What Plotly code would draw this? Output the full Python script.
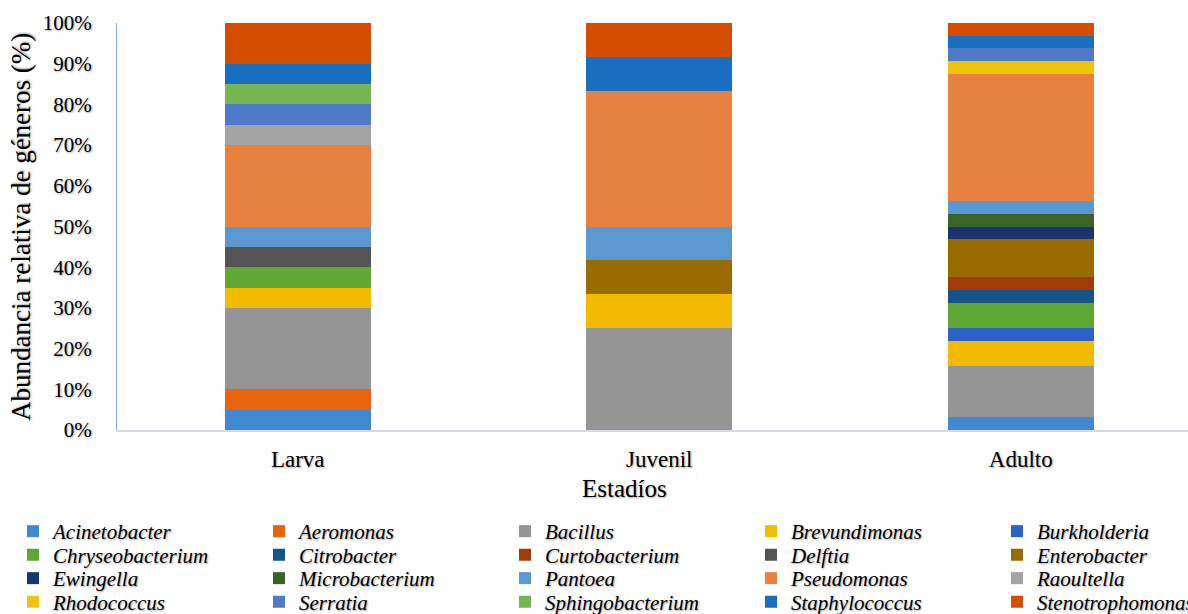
import plotly.graph_objects as go

# Developmental stages (x categories)
stages = ["Larva", "Juvenil", "Adulto"]

# Genera, in stacking order (bottom to top)
genera = [
    "Acinetobacter", "Aeromonas", "Bacillus", "Brevundimonas", "Burkholderia",
    "Chryseobacterium", "Citrobacter", "Curtobacterium", "Delftia", "Enterobacter",
    "Ewingella", "Microbacterium", "Pantoea", "Pseudomonas", "Raoultella",
    "Rhodococcus", "Serratia", "Sphingobacterium", "Staphylococcus", "Stenotrophomonas",
]

# Relative abundance (%) of each genus per stage
larva = [5, 5, 20, 5, 0, 5, 0, 0, 5, 0, 0, 0, 5, 20, 5, 0, 5, 5, 5, 10]
juvenil = [0, 0, 25, 8.33, 0, 0, 0, 0, 0, 8.33, 0, 0, 8.33, 33.33, 0, 0, 0, 0, 8.33, 8.33]
adulto = [3.125, 0, 12.5, 6.25, 3.125, 6.25, 3.125, 3.125, 0, 9.375,
          3.125, 3.125, 3.125, 31.25, 0, 3.125, 3.125, 0, 3.125, 3.125]

colors = [
    "#4189d0", "#e8650f", "#959595", "#f3bb00", "#2e62c6",
    "#5ea833", "#155389", "#a03c06", "#545454", "#9a6c00",
    "#18366e", "#396426", "#5b98d2", "#e88040", "#a3a3a3",
    "#f0c40c", "#4e7ac8", "#76b552", "#186fc0", "#d44e00",
]

y_ticks = list(range(0, 101, 10))
y_tick_text = [f"{v}%" for v in y_ticks]

SERIF = "Liberation Serif"
SHADOW = "1px 1px 2px rgba(0,0,0,0.35)"

W, H = 1188, 614
ML, MT, MB = 117, 23, 184
PW, PH = W - ML, H - MT - MB

fig = go.Figure()

legend_layouts = {}
for i, (name, col) in enumerate(zip(genera, colors)):
    key = "legend" if i == 0 else f"legend{i + 1}"
    vals = [larva[i], juvenil[i], adulto[i]]
    fig.add_trace(go.Bar(
        x=stages, y=vals, name=name,
        marker=dict(color=col, line=dict(width=0)),
        width=0.404,
        legend=key,
        hovertemplate="%{x}<br>" + name + ": %{y}%<extra></extra>",
    ))
    # one legend box per entry: 5 columns x 4 rows
    c, r = i % 5, i // 5
    left = 13 + 246 * c
    top = 511 + 23.5 * r
    legend_layouts[key] = dict(
        x=left / W, y=1 - top / H, xref="container", yref="container",
        xanchor="left", yanchor="top",
        bgcolor="rgba(0,0,0,0)", borderwidth=0,
        font=dict(family=SERIF, size=21, color="#000", style="italic", shadow=SHADOW),
    )


def px_x(px):
    return (px - ML) / PW


def px_y(px):
    return (H - MB - px) / PH


fig.update_layout(
    width=W, height=H,
    barmode="stack", barnorm="percent",
    plot_bgcolor="white", paper_bgcolor="white",
    margin=dict(l=ML, r=0, t=MT, b=MB, autoexpand=False),
    showlegend=True,
    font=dict(family=SERIF, color="#000"),
    xaxis=dict(
        type="category", range=[-0.5, -0.5 + PW / 361.5],
        showline=True, linecolor="#d6dbe3", linewidth=2,
        showgrid=False, zeroline=False, ticks="",
        tickfont=dict(family=SERIF, size=23, color="#000", shadow=SHADOW),
        ticklabelstandoff=7,
    ),
    yaxis=dict(
        range=[0, 100], tickvals=y_ticks, ticktext=y_tick_text,
        showline=True, linecolor="#85acd9", linewidth=1,
        showgrid=False, zeroline=False, ticks="",
        tickfont=dict(family=SERIF, size=21, color="#000", shadow=SHADOW),
        ticklabelstandoff=20,
    ),
    annotations=[
        dict(
            text="Estadíos", x=px_x(624.5), y=px_y(488),
            xref="paper", yref="paper", xanchor="center", yanchor="middle",
            showarrow=False,
            font=dict(family=SERIF, size=25, color="#000", shadow=SHADOW),
        ),
        dict(
            text="Abundancia relativa de géneros (%)", x=px_x(21), y=px_y(227),
            xref="paper", yref="paper", xanchor="center", yanchor="middle",
            textangle=-90, showarrow=False,
            font=dict(family=SERIF, size=27, color="#000", shadow=SHADOW),
        ),
    ],
    **legend_layouts,
)

fig.write_html("out.html")
